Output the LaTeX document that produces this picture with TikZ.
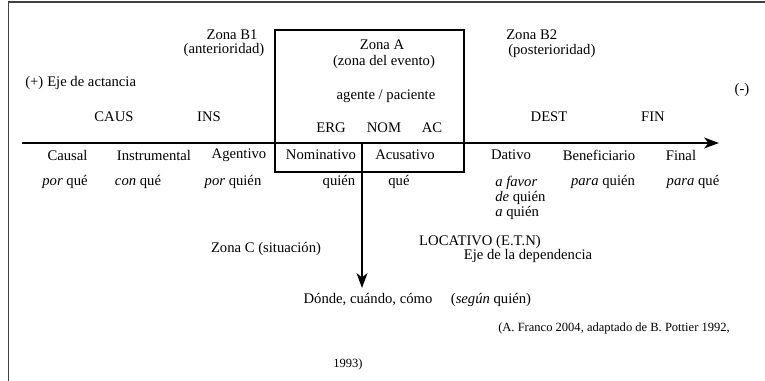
\documentclass[tikz,border=0pt]{standalone}
\usepackage{fontspec}
\setmainfont{Liberation Serif}
\usepackage{tikz}
\usetikzlibrary{positioning, arrows.meta}

\begin{document}
\begin{tikzpicture}[
        x=0.75pt, y=-0.75pt,
        txt/.style={font=\fontsize{11}{12.5}\selectfont, inner sep=0pt},
        small/.style={font=\fontsize{9.4}{11}\selectfont, inner sep=0pt},
        axisline/.style={line width=2pt, -{Stealth[length=11pt, width=8pt, inset=3pt]}},
        framebar/.style={line width=1.3pt, draw=black!75}
    ]
    \useasboundingbox (0,0) rectangle (765,381);
    \draw[framebar] (8.5,381) -- (8.5,2) -- (765,2);

    % Zona A
    \node[draw, line width=1pt, minimum width=141.75pt, minimum height=106.5pt] (boxA) at (369.5,101) {};
    \node[txt] (zonaA) at (382,45) {Zona A};
    \node[txt] (evento) at (384,62) {(zona del evento)};
    \node[txt] (agpac) at (386,96) {agente / paciente};

    % axes
    \coordinate (axL) at (22,143);
    \coordinate (axR) at (719,143);
    \coordinate (vTop) at (362,143);
    \coordinate (vBot) at (362,288);
    \draw[axisline] (axL) -- (axR);
    \draw[axisline] (vTop) -- (vBot);

    \node[txt] (zonaB1) at (232,35) {Zona B1};
    \node[txt] (anter) at (224,50) {(anterioridad)};
    \node[txt, anchor=west] (zonaB2) at (506,35) {Zona B2};
    \node[txt, anchor=west] (poster) at (508,51) {(posterioridad)};

    \node[txt, anchor=west] (mas) at (25,83) {(+)};
    \node[txt, anchor=west] (actancia) at (47,83) {Eje de actancia};
    \node[txt] (menos) at (742,90) {(-)};

    \foreach \x/\nm/\lab in {114/caus/CAUS, 209/ins/INS, 549/dest/DEST, 653/fin/FIN} {
        \node[txt] (\nm) at (\x,117) {\lab};
    }
    \foreach \x/\nm/\lab in {331/erg/ERG, 384/nom/NOM, 432/ac/AC} {
        \node[txt] (\nm) at (\x,128) {\lab};
    }

    % casos
    \foreach \x/\nm/\lab in {67.5/causal/Causal, 154/instr/Instrumental, 239/agent/Agentivo,
        321/nomin/Nominativo, 405/acus/Acusativo, 511/dat/Dativo, 599/benef/Beneficiario, 681/final/Final} {
        \node[txt] (\nm) at (\x,155) {\lab};
    }
    \foreach \x/\nm/\lab in {65/qcausal/\textit{por} qué, 138/qinstr/\textit{con} qué, 233/qagent/\textit{por} quién,
        339/qnomin/quién, 399/qacus/qué, 603/qbenef/\textit{para} quién, 693/qfinal/\textit{para} qué} {
        \node[txt] (\nm) at (\x,182) {\lab};
    }
    \node[txt, anchor=west] (qdat1) at (495,183) {\textit{a favor}};
    \node[txt, anchor=west] (qdat2) at (495,198) {\textit{de} quién};
    \node[txt, anchor=west] (qdat3) at (495,213) {\textit{a} quién};

    % Zona C
    \node[txt] (zonaC) at (266,249) {Zona C (situación)};
    \node[txt] (locat) at (480,242) {LOCATIVO (E.T.N)};
    \node[txt] (dependencia) at (528,256) {Eje de la dependencia};
    \node[txt] (donde) at (368,300) {Dónde, cuándo, cómo};
    \node[txt] (segun) at (491,300) {(\textit{según} quién)};

    \node[small, anchor=west] (fuente) at (498,328) {(A. Franco 2004, adaptado de B. Pottier 1992,};
    \node[small] (fuente2) at (348,364) {1993)};
\end{tikzpicture}
\end{document}
